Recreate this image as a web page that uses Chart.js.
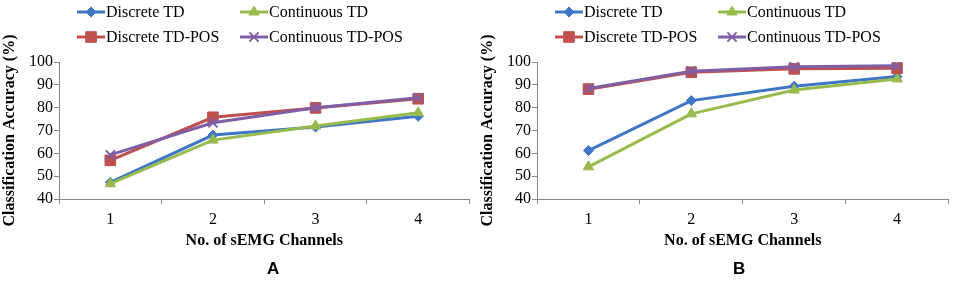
<!DOCTYPE html>
<html>
<head>
<meta charset="utf-8">
<script src="https://cdn.jsdelivr.net/npm/chart.js@4.4.1/dist/chart.umd.min.js"></script>
<style>
  html, body { margin: 0; padding: 0; background: #fff; }
  #wrap { position: relative; width: 957px; height: 286px; overflow: hidden; }
  .panel { position: absolute; top: 0; height: 286px; }
  .lbl { position: absolute; top: 259px; font: bold 17px "Liberation Sans", Arial, sans-serif; color: #000; }
</style>
</head>
<body>
<div id="wrap">
  <div class="panel" style="left:0;width:478px"><canvas id="chart-a"></canvas></div>
  <div class="panel" style="left:478px;width:479px"><canvas id="chart-b"></canvas></div>
  <div class="lbl" style="left:267px">A</div>
  <div class="lbl" style="left:733px">B</div>
</div>
<script>
// Dados
const canais = ['1', '2', '3', '4'];
const series = ['Discrete TD', 'Continuous TD', 'Discrete TD-POS', 'Continuous TD-POS'];

// Painel A
const aDiscreteTD = [47.3, 68.0, 71.5, 76.2];
const aContinuousTD = [46.7, 65.8, 72.0, 77.8];
const aDiscreteTDPOS = [56.9, 75.8, 79.9, 83.9];
const aContinuousTDPOS = [59.3, 73.4, 80.0, 84.3];

// Painel B
const bDiscreteTD = [61.2, 83.1, 89.4, 93.6];
const bContinuousTD = [54.1, 77.3, 87.7, 92.6];
const bDiscreteTDPOS = [88.1, 95.5, 97.0, 97.3];
const bContinuousTDPOS = [88.4, 96.0, 97.9, 98.4];

const cores = ['#3f76c6', '#98bb4e', '#c0504d', '#7e5fa6'];
const estilos = ['rectRot', 'triangle', 'rect', 'crossRot'];
const raios = [5, 6, 7.5, 6.5];

const SERIF = '"Liberation Serif", "Times New Roman", serif';

// Legenda em grade 2x2 (como no Excel)
const legendaGrade = {
    id: 'legendaGrade',
    afterDraw(chart) {
        const ctx = chart.ctx;
        const colX = [77, 240];
        const rowY = [12, 37];
        chart.data.datasets.forEach((ds, i) => {
            const x = colX[i % 2];
            const y = rowY[Math.floor(i / 2)];
            ctx.save();
            ctx.strokeStyle = ds.borderColor;
            ctx.fillStyle = ds.backgroundColor;
            ctx.lineWidth = ds.borderWidth;
            ctx.beginPath();
            ctx.moveTo(x, y);
            ctx.lineTo(x + 28, y);
            ctx.stroke();
            ctx.lineWidth = ds.pointBorderWidth;
            Chart.helpers.drawPoint(ctx, {
                pointStyle: ds.pointStyle,
                radius: ds.pointRadius,
                borderWidth: ds.pointBorderWidth,
                rotation: 0
            }, x + 14, y);
            ctx.fillStyle = '#000';
            ctx.font = '16px ' + SERIF;
            ctx.textBaseline = 'middle';
            ctx.textAlign = 'left';
            ctx.fillText(ds.label, x + 29, y + 1);
            ctx.restore();
        });
    }
};

function montarDatasets(valores) {
    return valores.map((v, i) => ({
        label: series[i],
        data: v,
        borderColor: cores[i],
        backgroundColor: cores[i],
        borderWidth: 3,
        pointStyle: estilos[i],
        pointRadius: raios[i],
        pointBorderWidth: i === 3 ? 2 : 1,
        pointBackgroundColor: cores[i],
        pointBorderColor: cores[i],
        tension: 0,
        order: 3 - i
    }));
}

function criarGrafico(id, valores) {
    const ctx = document.getElementById(id).getContext('2d');
    return new Chart(ctx, {
        type: 'line',
        data: { labels: canais, datasets: montarDatasets(valores) },
        plugins: [legendaGrade],
        options: {
            responsive: true,
            maintainAspectRatio: false,
            animation: false,
            layout: { padding: { top: 62, right: 4, bottom: 36, left: 0 } },
            plugins: { legend: { display: false }, tooltip: { enabled: false } },
            scales: {
                x: {
                    offset: true,
                    grid: { display: true, offset: true, drawOnChartArea: false, drawTicks: true, tickLength: 5, color: '#868686' },
                    border: { display: true, color: '#868686', width: 1 },
                    ticks: { color: '#000', font: { family: SERIF, size: 16 }, padding: 6 },
                    title: { display: true, text: 'No. of sEMG Channels', color: '#000', font: { family: SERIF, size: 16, weight: 'bold' }, padding: { top: 2, bottom: 0 } },
                    afterFit: s => { s.height = 51; }
                },
                y: {
                    min: 40,
                    max: 100,
                    ticks: { stepSize: 10, color: '#000', font: { family: SERIF, size: 16 }, padding: 1 },
                    grid: { display: true, drawOnChartArea: false, drawTicks: true, tickLength: 5, color: '#868686' },
                    border: { display: true, color: '#868686', width: 1 },
                    title: { display: true, text: 'Classification Accuracy (%)', color: '#000', font: { family: SERIF, size: 16, weight: 'bold' }, padding: 0 },
                    afterFit: s => { s.width = 59; }
                }
            }
        }
    });
}

criarGrafico('chart-a', [aDiscreteTD, aContinuousTD, aDiscreteTDPOS, aContinuousTDPOS]);
criarGrafico('chart-b', [bDiscreteTD, bContinuousTD, bDiscreteTDPOS, bContinuousTDPOS]);
</script>
</body>
</html>
